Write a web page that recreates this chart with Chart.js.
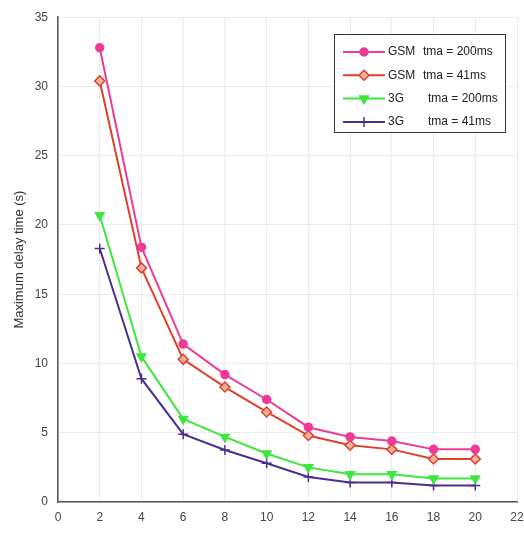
<!DOCTYPE html>
<html>
<head>
<meta charset="utf-8">
<script src="https://cdn.jsdelivr.net/npm/chart.js@4.4.0/dist/chart.umd.min.js"></script>
<style>
  html, body { margin: 0; padding: 0; background: #fff; }
  #wrap { position: relative; width: 524px; height: 535px; }
</style>
</head>
<body>
<div id="wrap"><canvas id="c" width="524" height="535"></canvas></div>
<script>
// number of users (x) and max delay (s) per configuration
const xValues = [2, 4, 6, 8, 10, 12, 14, 16, 18, 20];
const gsm200 = [32.8, 18.4, 11.4, 9.2, 7.4, 5.4, 4.7, 4.4, 3.8, 3.8];
const gsm41 = [30.4, 16.9, 10.3, 8.3, 6.5, 4.8, 4.1, 3.8, 3.1, 3.1];
const g3200 = [20.7, 10.5, 6.0, 4.7, 3.5, 2.5, 2.0, 2.0, 1.7, 1.7];
const g3_41 = [18.3, 8.9, 4.9, 3.75, 2.8, 1.8, 1.4, 1.4, 1.2, 1.2];
const seriesNames = ['GSM', 'GSM', '3G', '3G'];
const seriesTma = ['tma = 200ms', 'tma = 41ms', 'tma = 200ms', 'tma = 41ms'];
const xTicks = [0, 2, 4, 6, 8, 10, 12, 14, 16, 18, 20, 22];
const yTicks = [0, 5, 10, 15, 20, 25, 30, 35];

const toPts = (arr) => arr.map((v, i) => ({ x: xValues[i], y: v }));

// legend drawn inside the plot, MATLAB style
const boxLegend = {
    id: 'boxLegend',
    afterDraw(chart) {
        const ctx = chart.ctx;
        const x0 = 334, y0 = 34, w = 171, h = 98;
        ctx.save();
        ctx.fillStyle = '#fff';
        ctx.fillRect(x0, y0, w, h);
        ctx.strokeStyle = '#333';
        ctx.lineWidth = 1;
        ctx.strokeRect(x0 + 0.5, y0 + 0.5, w, h);
        ctx.font = '12px "Liberation Sans", Arial, sans-serif';
        ctx.textBaseline = 'middle';
        chart.data.datasets.forEach((ds, i) => {
            const y = y0 + 18 + i * 23.3;
            ctx.strokeStyle = ds.borderColor;
            ctx.lineWidth = 2;
            ctx.beginPath();
            ctx.moveTo(x0 + 9, y);
            ctx.lineTo(x0 + 51, y);
            ctx.stroke();
            ctx.fillStyle = ds.pointBackgroundColor;
            ctx.strokeStyle = ds.pointBorderColor;
            ctx.lineWidth = ds.pointBorderWidth;
            Chart.helpers.drawPoint(ctx, {
                pointStyle: ds.pointStyle,
                radius: ds.pointRadius,
                rotation: ds.pointRotation || 0,
                borderWidth: ds.pointBorderWidth
            }, x0 + 30, y);
            ctx.fillStyle = '#222';
            ctx.fillText(seriesNames[i], x0 + 54, y);
            ctx.fillText(seriesTma[i], x0 + (i < 2 ? 89 : 94), y);
        });
        ctx.restore();
    }
};

const ds = (label, data, color, style, fill, radius, rot) => ({
    label: label,
    data: toPts(data),
    borderColor: color,
    backgroundColor: fill,
    borderWidth: 2,
    pointStyle: style,
    pointRadius: radius,
    pointRotation: rot || 0,
    pointBackgroundColor: fill,
    pointBorderColor: color,
    pointBorderWidth: 1.5,
    tension: 0
});

const font12 = { family: '"Liberation Sans", Arial, sans-serif', size: 12 };

new Chart(document.getElementById('c'), {
    type: 'line',
    data: {
        datasets: [
            ds('GSM tma = 200ms', gsm200, '#ee3c96', 'circle', '#ee3c96', 4),
            ds('GSM tma = 41ms', gsm41, '#e0402a', 'rectRot', '#f7b0a0', 5),
            ds('3G tma = 200ms', g3200, '#3ee63e', 'triangle', '#3ee63e', 5, 180),
            ds('3G tma = 41ms', g3_41, '#4b2f8f', 'cross', '#4b2f8f', 5)
        ]
    },
    options: {
        responsive: false,
        animation: false,
        devicePixelRatio: 1,
        layout: { padding: { left: 12, top: 17, right: 7, bottom: 0 } },
        plugins: {
            legend: { display: false },
            tooltip: { enabled: false }
        },
        scales: {
            x: {
                type: 'linear',
                min: 0,
                max: 22,
                afterBuildTicks: (s) => { s.ticks = xTicks.map(v => ({ value: v })); },
                afterFit: (s) => { s.height = 33; s.paddingRight = 0; },
                grid: { color: '#ececec', drawTicks: false },
                border: { color: '#555', width: 1.5 },
                ticks: { color: '#444', padding: 8, maxRotation: 0, font: font12 }
            },
            y: {
                min: 0,
                max: 35,
                afterBuildTicks: (s) => { s.ticks = yTicks.map(v => ({ value: v })); },
                afterFit: (s) => { s.width = 46; },
                grid: { color: '#ececec', drawTicks: false },
                border: { color: '#555', width: 1.5 },
                title: {
                    display: true,
                    text: 'Maximum delay time (s)',
                    color: '#333',
                    padding: { top: 0, bottom: 2 },
                    font: { family: '"Liberation Sans", Arial, sans-serif', size: 13 }
                },
                ticks: { color: '#444', padding: 10, font: font12 }
            }
        }
    },
    plugins: [boxLegend]
});
</script>
</body>
</html>
